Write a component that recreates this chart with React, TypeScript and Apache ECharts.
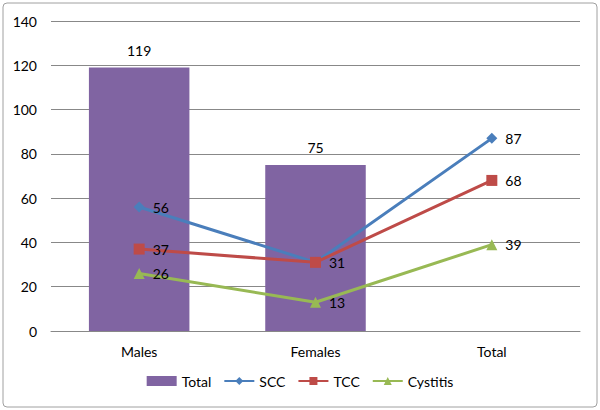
import React, { useEffect, useRef } from "react";
import * as echarts from "echarts";

const categories = ["Males", "Females", "Total"];
const totalValues: (number | null)[] = [119, 75, null];
const sccValues = [56, 31, 87];
const tccValues = [37, 31, 68];
const cystitisValues = [26, 13, 39];
const yTicks = { min: 0, max: 140, interval: 20 };

const FONT = "Lato, 'Open Sans', sans-serif";
const FS = 14;

export default function App() {
  const ref = useRef<HTMLDivElement>(null);
  useEffect(() => {
    if (!ref.current) return;
    const chart = echarts.init(ref.current, undefined, { renderer: "svg" });
    const lineLabel = {
      show: true,
      position: "right" as const,
      distance: 8,
      color: "#000",
      fontSize: FS,
      fontFamily: FONT,
    };
    chart.setOption({
      animation: false,
      textStyle: { fontFamily: FONT },
      graphic: [
        {
          type: "rect",
          shape: { x: 3, y: 3, width: 594, height: 404, r: 4 },
          style: { fill: "none", stroke: "#a0a0a0", lineWidth: 1 },
          silent: true,
        },
      ],
      grid: { left: 51, right: 20, top: 21, bottom: 79, containLabel: false },
      legend: {
        bottom: 17,
        left: "center",
        itemWidth: 30,
        itemHeight: 10,
        itemGap: 12,
        textStyle: { fontSize: FS, fontFamily: FONT, color: "#000" },
        data: [
          { name: "Total", icon: "rect" },
          { name: "SCC" },
          { name: "TCC" },
          { name: "Cystitis" },
        ],
      },
      xAxis: {
        type: "category",
        data: categories,
        axisLine: { lineStyle: { color: "#888", width: 1 } },
        axisTick: { show: false },
        axisLabel: { fontSize: FS, fontFamily: FONT, color: "#000", margin: 13 },
      },
      yAxis: {
        type: "value",
        min: yTicks.min,
        max: yTicks.max,
        interval: yTicks.interval,
        axisLine: { show: false },
        axisTick: { show: false },
        axisLabel: { fontSize: FS, fontFamily: FONT, color: "#000", margin: 14 },
        splitLine: { lineStyle: { color: "#888", width: 1 } },
      },
      series: [
        {
          name: "Total",
          type: "bar",
          data: totalValues.map((v) => (v === null ? "-" : v)),
          barWidth: "57%",
          itemStyle: { color: "#8064A2" },
          label: {
            show: true,
            position: "top",
            distance: 10,
            color: "#000",
            fontSize: FS,
            fontFamily: FONT,
          },
        },
        {
          name: "SCC",
          type: "line",
          data: sccValues.map((v, i) =>
            i === 1 ? { value: v, label: { show: false } } : v
          ),
          symbol: "diamond",
          symbolSize: 11,
          lineStyle: { color: "#4A7EBB", width: 3 },
          itemStyle: { color: "#4A7EBB" },
          label: lineLabel,
          z: 3,
        },
        {
          name: "TCC",
          type: "line",
          data: tccValues,
          symbol: "rect",
          symbolSize: 11,
          lineStyle: { color: "#BE4B48", width: 3 },
          itemStyle: { color: "#BE4B48" },
          label: lineLabel,
          z: 4,
        },
        {
          name: "Cystitis",
          type: "line",
          data: cystitisValues,
          symbol: "triangle",
          symbolSize: 11,
          lineStyle: { color: "#98B954", width: 3 },
          itemStyle: { color: "#98B954" },
          label: lineLabel,
          z: 5,
        },
      ],
    });
    return () => chart.dispose();
  }, []);
  return <div ref={ref} style={{ width: 600, height: 410, position: "absolute", left: 0, top: 0 }} />;
}
